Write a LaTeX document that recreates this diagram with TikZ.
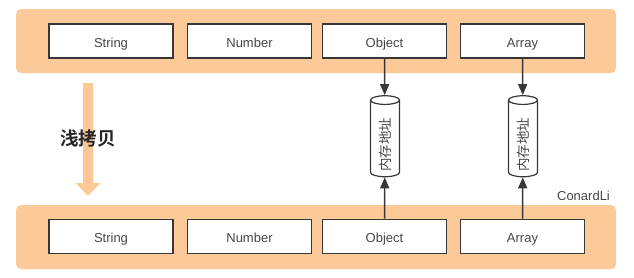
\documentclass[tikz,border=0pt]{standalone}
\usepackage{fontspec}
\setmainfont{Liberation Sans}
\newfontfamily\cjk{Noto Sans CJK SC}
\newfontfamily\cjkbold{Noto Sans CJK SC Bold}
\usetikzlibrary{shapes.geometric,arrows.meta}
\definecolor{bandC}{RGB}{252,201,152}
\definecolor{arrowO}{RGB}{251,200,150}
\definecolor{edgeC}{RGB}{55,55,55}
\definecolor{txtC}{RGB}{70,70,70}
\tikzset{
  band/.style={fill=bandC, draw=none, rounded corners=5pt},
  typebox/.style={draw=edgeC, line width=1.8pt, fill=white, minimum width=124pt, minimum height=34pt, inner sep=0pt, text height=12.5pt, text depth=0pt, text=txtC, font=\fontsize{13}{15}\selectfont},
  memcyl/.style={cylinder, rotate=90, draw=edgeC, line width=1.2pt, fill=white, aspect=0.6, minimum width=29pt, minimum height=81pt, inner sep=1pt, text=txtC, font=\cjk\fontsize{13.5}{15}\selectfont},
  ptr/.style={draw=edgeC, line width=1.5pt, -{Triangle[length=11pt,width=9pt]}},
  copyarrow/.style={draw=arrowO, line width=10pt, -{Triangle[length=13pt,width=24pt]}}
}
\begin{document}
\begin{tikzpicture}[x=1pt,y=-1pt]
\useasboundingbox (0,0) rectangle (634,277);
% bands
\fill[band] (16,9) rectangle (616,73);
\fill[band] (16,205) rectangle (616,269);
% top boxes
\node[typebox] (s1) at (111,41) {String};
\node[typebox] (n1) at (249.5,41) {Number};
\node[typebox] (o1) at (384.5,41) {Object};
\node[typebox] (a1) at (522.5,41) {Array};
% bottom boxes
\node[typebox] (s2) at (111,236.5) {String};
\node[typebox] (n2) at (249.5,236.5) {Number};
\node[typebox] (o2) at (384.5,236.5) {Object};
\node[typebox] (a2) at (522.5,236.5) {Array};
% cylinders
\node[memcyl] (c1) at (385,139.5) {内存地址\kern10pt};
\node[memcyl] (c2) at (523,139.5) {内存地址\kern10pt};
% pointers
\draw[ptr] (o1.south) -- (c1);
\draw[ptr] (a1.south) -- (c2);
\draw[ptr] (o2.north) -- (c1);
\draw[ptr] (a2.north) -- (c2);
% copy arrow
\coordinate (cpA) at (88,83);
\coordinate (cpB) at (88,196);
\draw[copyarrow] (cpA) -- (cpB);
\node[font=\cjkbold\fontsize{18.5}{20}\selectfont, text=black!85] (lbl) at (88,138) {浅拷贝};
\node[font=\fontsize{13}{15}\selectfont, text=txtC] (author) at (583.5,196) {ConardLi};
\end{tikzpicture}
\end{document}
